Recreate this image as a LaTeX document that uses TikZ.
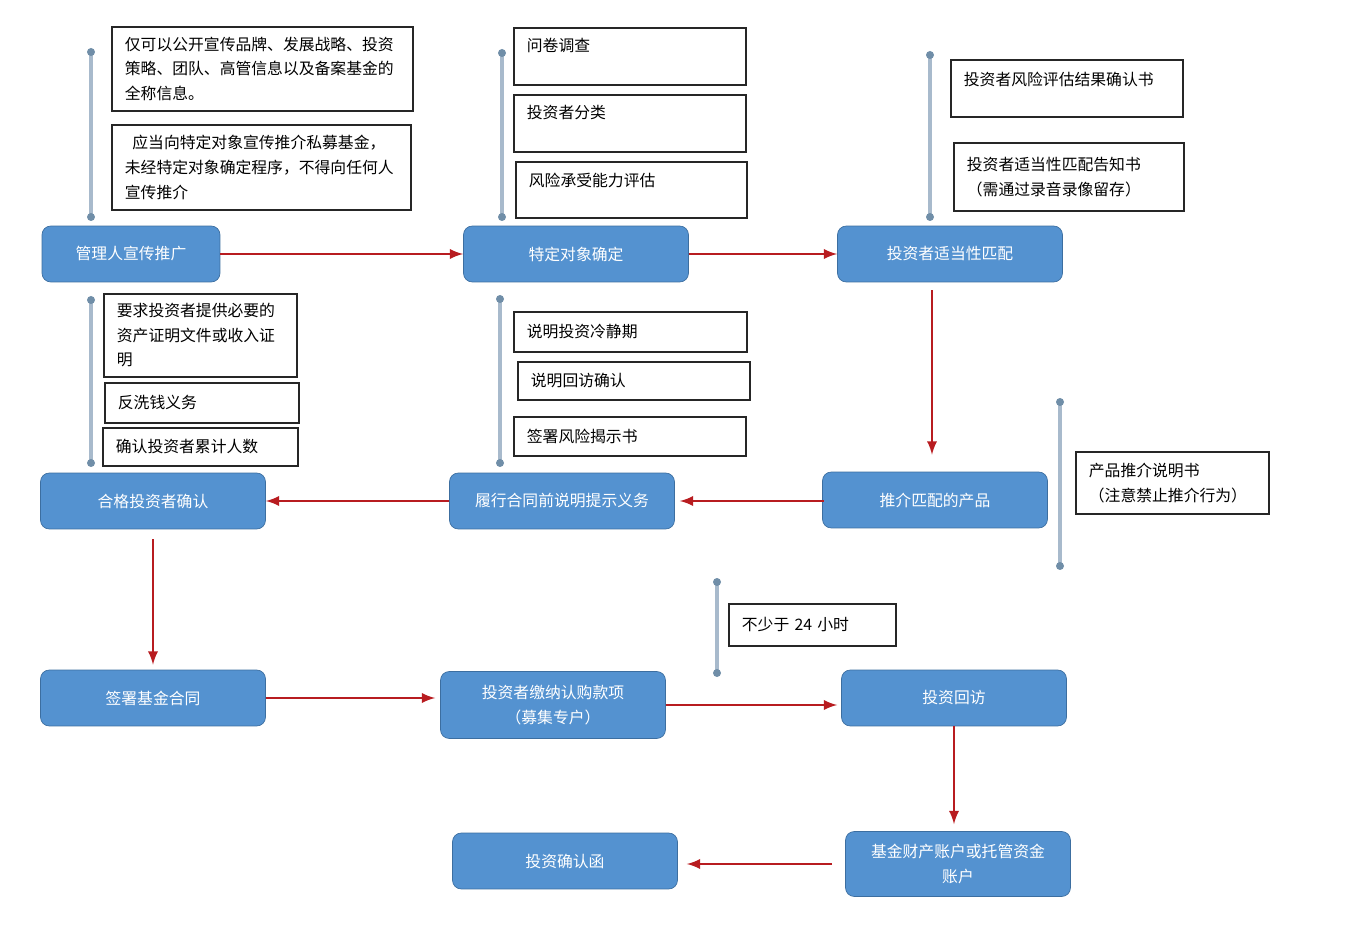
\documentclass[tikz,border=0pt]{standalone}
\usepackage{fontspec}
\setmainfont{Noto Sans CJK SC}
\usepackage{tikz}
\usetikzlibrary{calc}
\definecolor{boxblue}{RGB}{84,146,208}
\definecolor{boxline}{RGB}{60,110,160}
\definecolor{arrowred}{RGB}{184,28,32}
\definecolor{railgray}{RGB}{168,186,204}
\definecolor{raildot}{RGB}{112,142,168}
\tikzset{flow box/.style={
  draw=boxline,
  fill=boxblue,
  rounded corners=5pt,
  minimum height=1.12cm,
  minimum width=4.5cm,
  text=white,
  align=center,
  font=\fontsize{9}{14}\selectfont
  },
  note box/.style={
  draw=black!85,
  line width=1pt,
  fill=white,
  anchor=north west,
  inner xsep=0.26cm,
  inner ysep=0.16cm,
  align=left,
  font=\fontsize{9}{14}\selectfont
  },
  flow arrow/.style={
  arrowred,
  line width=1.6pt,
  -latex
  },
  rail/.style={
  railgray,
  line width=1.8pt
  }
}

\begin{document}
\begin{tikzpicture}[x=0.02cm,y=-0.02cm]
    \useasboundingbox (0,0) rectangle (1352,935);

    \foreach \x/\ya/\yb [count=\n] in {91/52/217,502/53/217,930/55/217,91/300/463,500/299/463,1060/402/566,717/582/673}{
        \coordinate (R\n-top) at (\x,\ya);
        \coordinate (R\n-bot) at (\x,\yb);
        \draw[rail] (R\n-top) -- (R\n-bot);
        \fill[raildot] (R\n-top) circle (0.08cm) (R\n-bot) circle (0.08cm);
    }

    % notes
    \node[note box,text width=5.50cm,minimum height=1.68cm] (A1) at (111,26) {仅可以公开宣传品牌、发展战略、投资\\策略、团队、高管信息以及备案基金的\\全称信息。};
    \node[note box,text width=5.46cm,minimum height=1.70cm] (A2) at (111,124) {\hspace{0.15cm}应当向特定对象宣传推介私募基金，\\未经特定对象确定程序，不得向任何人\\宣传推介};

    \node[note box,text width=4.12cm,minimum height=1.14cm,text height=0.32cm,text depth=0.50cm] (B1) at (513,27) {问卷调查};
    \node[note box,text width=4.12cm,minimum height=1.14cm,text height=0.32cm,text depth=0.50cm] (B2) at (513,94) {投资者分类};
    \node[note box,text width=4.10cm,minimum height=1.12cm,text height=0.34cm,text depth=0.46cm] (B3) at (515,161) {风险承受能力评估};

    \node[note box,text width=4.12cm,minimum height=1.14cm,text height=0.36cm,text depth=0.46cm] (C1) at (950,59) {投资者风险评估结果确认书};
    \node[note box,text width=4.08cm,minimum height=1.36cm] (C2) at (953,142) {投资者适当性匹配告知书\\（需通过录音录像留存）};

    \node[note box,text width=3.34cm,minimum height=1.66cm] (D1) at (103,293) {要求投资者提供必要的\\资产证明文件或收入证\\明};
    \node[note box,text width=3.36cm,minimum height=0.80cm] (D2) at (104,382) {反洗钱义务};
    \node[note box,text width=3.38cm,minimum height=0.76cm] (D3) at (102,427) {确认投资者累计人数};

    \node[note box,text width=4.14cm,minimum height=0.80cm] (E1) at (513,311) {说明投资冷静期};
    \node[note box,text width=4.12cm,minimum height=0.76cm] (E2) at (517,361) {说明回访确认};
    \node[note box,text width=4.12cm,minimum height=0.78cm] (E3) at (513,416) {签署风险揭示书};

    \node[note box,text width=3.34cm,minimum height=1.24cm] (F1) at (1075,451) {产品推介说明书\\（注意禁止推介行为）};
    \node[note box,text width=2.82cm,minimum height=0.84cm] (G1) at (728,603) {不少于 24 小时};

    % steps
    \node[flow box,minimum width=3.56cm] (P1) at (131,254) {管理人宣传推广};
    \node[flow box] (P2) at (576,254) {特定对象确定};
    \node[flow box] (P3) at (950,254) {投资者适当性匹配};
    \node[flow box] (P4) at (935,500) {推介匹配的产品};
    \node[flow box] (P5) at (562,501) {履行合同前说明提示义务};
    \node[flow box] (P6) at (153,501) {合格投资者确认};
    \node[flow box] (P7) at (153,698) {签署基金合同};
    \node[flow box,minimum height=1.34cm] (P8) at (553,705) {投资者缴纳认购款项\\（募集专户）};
    \node[flow box] (P9) at (954,698) {投资回访};
    \node[flow box,minimum height=1.30cm] (P10) at (958,864) {基金财产账户或托管资金\\账户};
    \node[flow box] (P11) at (565,861) {投资确认函};

    \draw[flow arrow] (P1) -- (P2);
    \draw[flow arrow] (P2) -- (P3);
    \draw[flow arrow,shorten <=0.16cm,shorten >=0.34cm] ([xshift=-0.36cm]P3.south) -- ([xshift=-0.36cm]P3.south |- P4.north);
    \draw[flow arrow,shorten >=0.1cm] (P4.west) -- (P4.west |- P5.east) -- (P5.east);
    \draw[flow arrow] (P5) -- (P6);
    \draw[flow arrow,shorten <=0.2cm,shorten >=0.1cm] (P6.south) -- (P7.north);
    \draw[flow arrow,shorten >=0.1cm] (P7.east) -- (P7.east -| P8.west);
    \draw[flow arrow,shorten >=0.08cm] (P8.east) -- (P8.east -| P9.west);
    \draw[flow arrow,shorten >=0.14cm] (P9.south) -- (P9.south |- P10.north);
    \draw[flow arrow,shorten <=0.26cm,shorten >=0.18cm] (P10.west) -- (P10.west -| P11.east);

\end{tikzpicture}
\end{document}
